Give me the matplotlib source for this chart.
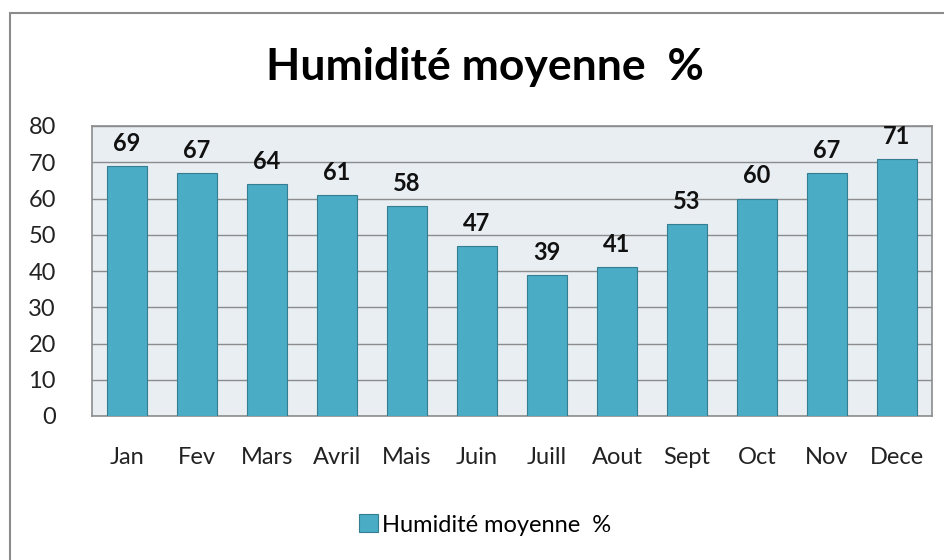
import matplotlib.pyplot as plt
from matplotlib.patches import Rectangle

months = ["Jan", "Fev", "Mars", "Avril", "Mais", "Juin", "Juill", "Aout", "Sept", "Oct", "Nov", "Dece"]
humidity = [69, 67, 64, 61, 58, 47, 39, 41, 53, 60, 67, 71]
yticks = [0, 10, 20, 30, 40, 50, 60, 70, 80]

plt.rcParams['font.family'] = ['Lato', 'DejaVu Sans']

fig = plt.figure(figsize=(9.45, 5.6), dpi=100)
fig.patches.append(Rectangle((10 / 945, -0.1), 1.2, 1 - 13 / 560 + 0.1, transform=fig.transFigure,
                             fill=False, edgecolor='#8c8c8c', linewidth=1.5))

ax = fig.add_axes([92 / 945, 1 - 416 / 560, (932 - 92) / 945, (416 - 126) / 560])
ax.set_facecolor('#e8eef2')
x = range(len(months))
bars = ax.bar(x, humidity, width=0.58, color='#4bacc6', edgecolor='#357d91', linewidth=0.8,
              label='Humidité moyenne  %', zorder=3)

for xi, v in zip(x, humidity):
    ax.annotate(str(v), (xi, v), xytext=(0, 8), textcoords='offset points',
                ha='center', va='bottom', fontsize=17, fontweight='bold', color='#111111')

ax.set_ylim(0, 80)
ax.set_xlim(-0.5, len(months) - 0.5)
ax.set_yticks(yticks)
ax.yaxis.grid(True, color='#8c8c8c', linewidth=1, zorder=0)
ax.set_xticks(list(x))
ax.set_xticklabels(months)
ax.tick_params(axis='both', length=0, labelsize=17, colors='#222222')
ax.tick_params(axis='x', pad=22)
ax.tick_params(axis='y', pad=26)
for s in ax.spines.values():
    s.set_color('#8c8c8c')
    s.set_linewidth(1.2)

fig.text(485 / 945, 1 - 67 / 560, 'Humidité moyenne  %', ha='center', va='center',
         fontsize=32, fontweight='bold', color='#000000')

fig.legend(handles=[bars], labels=['Humidité moyenne  %'], loc='center',
           bbox_to_anchor=(485 / 945, 1 - 525 / 560), frameon=False, fontsize=17,
           handlelength=0.8, handleheight=0.8, handletextpad=0.2)

fig.savefig('out.png', dpi=100)
